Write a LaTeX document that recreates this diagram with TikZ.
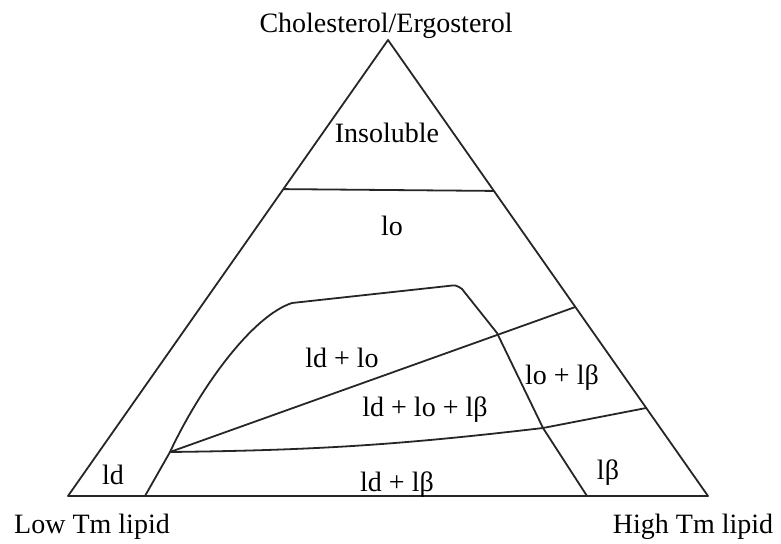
\documentclass[tikz,border=0pt]{standalone}
\usepackage{fontspec}
\setmainfont{Liberation Serif}
\usetikzlibrary{calc}

\begin{document}
\begin{tikzpicture}[
  x=0.5pt, y=-0.5pt, font=\fontsize{14}{16}\selectfont,
  bnd/.style = {draw=black!85, line width=0.9pt, line join=round},
  lbl/.style = {anchor=base, inner sep=0pt},
]
  \useasboundingbox (0,0) rectangle (781,544);

  % ---- triangle ---------------------------------------------
  \coordinate (top) at (388, 40);
  \coordinate (lft) at ( 68,496);
  \coordinate (rgt) at (708,496);
  \draw[bnd] (top) -- (rgt) -- (lft) -- cycle;

  % ---- insoluble limit --------------------------------------
  \coordinate (insL) at ($(top)!0.327!(lft)$);
  \coordinate (insR) at ($(top)!0.331!(rgt)$);
  \draw[bnd] (insL) -- (insR);

  % ---- lo / ld boundary -------------------------------------
  \coordinate (ldB) at (145,496);
  \coordinate (tp)  at (170,452);
  \coordinate (loA) at (292,303);
  \coordinate (loB) at (448,286);
  \coordinate (loC) at (462,289);
  \coordinate (loD) at (497,333);
  \coordinate (tr)  at (543,428);
  \coordinate (lbB) at (587,496);
  \draw[bnd] (ldB) -- (tp) .. controls (200,388) and (252,316) .. (loA)
             -- (loB) .. controls (456,285) .. (loC)
             -- (loD) -- (tr) -- (lbB);

  % ---- three-phase triangle ---------------------------------
  \coordinate (tuR) at ($(top)!0.5855!(rgt)$);
  \coordinate (tlR) at ($(top)!0.807!(rgt)$);
  \draw[bnd] (tp) -- (tuR);
  \draw[bnd] (tp) to[bend right=3] (tr);
  \draw[bnd] (tr) -- (tlR);

  % ---- labels -----------------------------------------------
  \node[lbl] (chol) at (386, 33) {Cholesterol/Ergosterol};
  \node[lbl] (ins)  at (387,143) {Insoluble};
  \node[lbl] (lo)   at (392,236) {lo};
  \node[lbl] (ldlo) at (342,368) {ld + lo};
  \node[lbl] (dob)  at (425,417) {ld + lo + lβ};
  \node[lbl] (ldlb) at (397,492) {ld + lβ};
  \node[lbl] (lolb) at (562,385) {lo + lβ};
  \node[lbl] (lb)   at (608,480) {lβ};
  \node[lbl] (ld)   at (113,485) {ld};
  \node[lbl] (low)  at ( 92,533) {Low Tm lipid};
  \node[lbl] (high) at (693,533) {High Tm lipid};

\end{tikzpicture}
\end{document}
